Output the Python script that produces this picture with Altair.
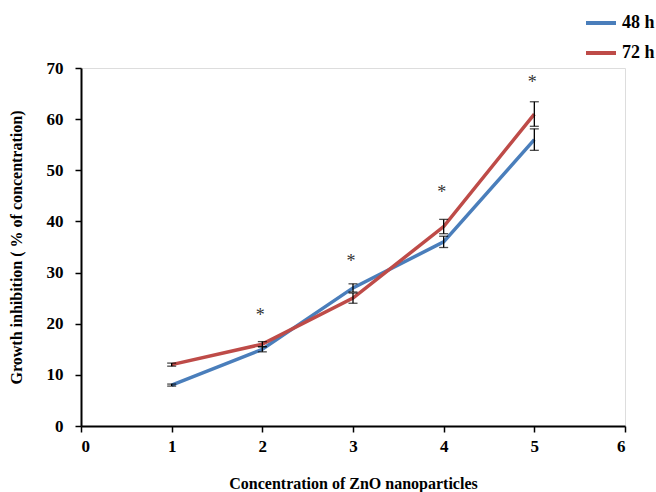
import altair as alt
import pandas as pd

conc = [1, 2, 3, 4, 5]
inh_48 = [8.0, 15.0, 27.0, 36.0, 56.0]
err_48 = [0.2, 0.5, 0.8, 1.1, 2.1]
inh_72 = [12.0, 16.0, 25.0, 39.0, 61.0]
err_72 = [0.3, 0.5, 1.0, 1.4, 2.4]
star_x = [2, 3, 4, 5]
star_y = [21.5, 32.0, 45.5, 67.0]
series = ["48 h", "72 h"]
colors = ["#4a7ebb", "#be4b48"]

rows = []
for s, vals, errs in [("48 h", inh_48, err_48), ("72 h", inh_72, err_72)]:
    for c, v, e in zip(conc, vals, errs):
        rows.append({"conc": c, "val": v, "lo": v - e, "hi": v + e, "series": s})
df = pd.DataFrame(rows)
stars = pd.DataFrame({"x": star_x, "y": star_y, "t": ["*"] * len(star_x)})

FONT = "Liberation Serif"

xscale = alt.Scale(domain=[0, 6], nice=False)
yscale = alt.Scale(domain=[0, 70], nice=False)

xax = alt.Axis(values=[0, 1, 2, 3, 4, 5, 6], format="d", grid=False, domainColor="black", domainWidth=2,
               tickColor="black", tickWidth=1.5, tickSize=6, labelFont=FONT, labelFontWeight="bold",
               labelFontSize=17, labelColor="black", labelPadding=6, titleFont=FONT,
               titleFontWeight="bold", titleFontSize=16, titleColor="black", titlePadding=21)
yax = alt.Axis(values=[0, 10, 20, 30, 40, 50, 60, 70], format="d", grid=False, domainColor="black", domainWidth=2,
               tickColor="black", tickWidth=1.5, tickSize=6, labelFont=FONT, labelFontWeight="bold",
               labelFontSize=17, labelColor="black", labelPadding=12, titleFont=FONT,
               titleFontWeight="bold", titleFontSize=16, titleColor="black", titlePadding=22)

color = alt.Color("series:N", scale=alt.Scale(domain=series, range=colors),
                  legend=alt.Legend(title=None, orient="none", legendX=503, legendY=-62,
                                    symbolType="stroke", symbolSize=900, symbolStrokeWidth=4,
                                    labelFont=FONT, labelFontWeight="bold", labelFontSize=18,
                                    labelColor="black", rowPadding=4, labelOffset=4))

lines = alt.Chart(df).mark_line(strokeWidth=3.5).encode(
    x=alt.X("conc:Q", scale=xscale, axis=xax, title="Concentration of ZnO nanoparticles"),
    y=alt.Y("val:Q", scale=yscale, axis=yax, title="Growth inhibition ( % of concentration)"),
    color=color,
)

rules = alt.Chart(df).mark_rule(color="black", strokeWidth=1.3).encode(
    x="conc:Q", y="lo:Q", y2="hi:Q")
cap_lo = alt.Chart(df).mark_tick(color="black", orient="horizontal", size=9, thickness=1.3).encode(
    x="conc:Q", y="lo:Q")
cap_hi = alt.Chart(df).mark_tick(color="black", orient="horizontal", size=9, thickness=1.3).encode(
    x="conc:Q", y="hi:Q")

star_marks = alt.Chart(stars).mark_text(fontSize=18, font=FONT, color="#333333", dx=-2).encode(
    x="x:Q", y="y:Q", text="t:N")

chart = alt.layer(lines, rules, cap_lo, cap_hi, star_marks).properties(
    width=544, height=358,
    autosize=alt.AutoSizeParams(type="none"),
    padding={"left": 81, "top": 68, "right": 31, "bottom": 66},
).configure_view(stroke=None).configure(background="white")

chart.save("out.html", embed_options={"renderer": "svg", "actions": False})
